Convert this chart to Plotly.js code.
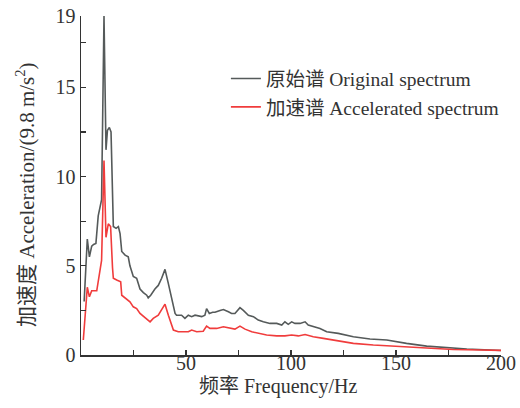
<!DOCTYPE html>
<html><head><meta charset="utf-8">
<script src="https://cdn.plot.ly/plotly-3.0.1.min.js"></script>
<style>body{margin:0;background:#fff}#c{width:520px;height:408px}</style>
</head><body><div id="c"></div>
<script>
const freqOrig = [1.5,3.0,4.0,5.1,6.0,7.1,8.2,9.0,9.8,10.95,11.9,12.6,13.5,14.3,15.1,15.4,16.7,17.8,18.6,19.4,21.0,22.5,23.3,24.9,26.5,28.1,29.7,31.3,32.0,33.2,35.2,36.8,38.4,40.0,41.6,43.2,44.8,45.5,47.9,49.5,51.1,52.7,54.3,57.5,59.0,59.8,61.1,62.7,63.8,66.2,67.8,70.2,71.7,73.3,75.7,77.3,79.7,82.1,84.4,86.8,90.0,93.2,95.6,97.1,98.7,100.3,101.9,104.3,106.7,108.2,110.6,113.8,117.0,120.1,122.5,129.7,137.6,145.6,155.0,164.6,174.0,183.7,194.8,200.0];
const valOrig  = [3.0,6.5,5.5,6.1,6.2,6.25,7.8,8.3,8.7,19.0,11.5,12.6,12.75,12.5,8.7,7.2,7.1,7.2,6.8,5.8,5.6,5.5,5.0,4.4,4.3,3.7,3.5,3.35,3.2,3.35,3.7,3.9,4.3,4.8,4.0,3.07,2.33,2.23,2.23,2.05,2.23,2.15,2.23,2.15,2.23,2.6,2.33,2.4,2.4,2.5,2.55,2.42,2.33,2.33,2.65,2.5,2.23,2.15,1.96,1.86,1.77,1.77,1.68,1.86,1.72,1.86,1.77,1.77,1.86,1.68,1.58,1.49,1.3,1.25,1.21,1.02,0.9,0.84,0.65,0.5,0.41,0.34,0.28,0.25];
const freqAcc  = [1.1,3.0,4.0,5.1,7.5,8.2,9.0,9.8,10.95,11.9,13.0,14.1,15.0,15.4,17.0,18.9,19.4,21.7,23.3,24.9,26.5,28.1,31.3,32.9,34.4,36.8,39.2,40.0,41.6,43.2,44.0,46.3,48.7,51.1,52.7,55.1,58.2,59.8,61.4,64.6,67.8,71.0,73.3,75.7,78.1,81.3,84.4,88.4,93.2,97.1,100.3,103.5,106.7,110.6,115.4,120.1,129.7,139.2,148.8,158.3,167.8,177.3,190.0,200.0];
const valAcc   = [0.84,3.8,3.26,3.6,3.6,4.2,4.75,5.3,10.9,6.6,7.35,7.2,4.9,4.3,4.2,4.1,3.35,3.16,2.98,2.7,2.6,2.33,2.05,1.86,2.05,2.23,2.7,2.85,2.23,1.58,1.4,1.3,1.3,1.3,1.4,1.3,1.33,1.62,1.49,1.49,1.58,1.49,1.45,1.62,1.45,1.3,1.21,1.12,1.07,1.07,1.12,1.07,1.15,1.02,0.93,0.84,0.65,0.56,0.5,0.43,0.37,0.31,0.28,0.26];
const xTickVals = [0,25,50,75,100,125,150,175,200];
const xTickText = ['','','50','','100','','150','','200'];
const yTickVals = [0,2.5,5,7.5,10,12.5,15,17.5,19];
const yTickText = ['0','','5','','10','','15','','19'];
const seriesNames = ['原始谱 Original spectrum','加速谱 Accelerated spectrum'];
const xTitle = '频率 Frequency/Hz';
const yTitle = '加速度 Acceleration/(9.8 m/s<sup>2</sup>)';

const F = 'Liberation Serif, Times New Roman, Noto Sans CJK SC, serif';
const C = '#333';
const traces = [
  {x:freqOrig, y:valOrig, mode:'lines', name:seriesNames[0], line:{color:'#555a5a', width:1.6}},
  {x:freqAcc, y:valAcc, mode:'lines', name:seriesNames[1], line:{color:'#f03c3c', width:1.6}}
];
const layout = {
  width:520, height:408,
  margin:{l:81, r:19, t:16, b:53},
  paper_bgcolor:'#fff', plot_bgcolor:'#fff',
  font:{family:F, size:18, color:C},
  showlegend:true,
  legend:{x:0.345, y:0.872, xanchor:'left', yanchor:'top', bgcolor:'rgba(0,0,0,0)', font:{family:F, size:19.5, color:C}, tracegroupgap:0},
  xaxis:{range:[0,200], tickvals:xTickVals, ticktext:xTickText, ticks:'inside', ticklen:5, tickwidth:1.3, tickcolor:C,
         showline:true, linecolor:C, linewidth:1.5, showgrid:false, zeroline:false, ticklabelstandoff:-11,
         tickfont:{family:F, size:20, color:C}},
  yaxis:{range:[0,19], tickvals:yTickVals, ticktext:yTickText, ticks:'inside', ticklen:5, tickwidth:1.3, tickcolor:C,
         showline:true, linecolor:C, linewidth:1.5, showgrid:false, zeroline:false,
         tickfont:{family:F, size:20, color:C}},
  annotations:[
    {text:xTitle, xref:'paper', yref:'paper', x:0.47, y:-0.094, xanchor:'center', yanchor:'middle', showarrow:false, font:{family:F, size:20, color:C}},
    {text:yTitle, xref:'paper', yref:'paper', x:-0.131, y:0.475, xanchor:'center', yanchor:'middle', textangle:-90, showarrow:false, font:{family:F, size:21, color:C}}
  ]
};
Plotly.newPlot('c', traces, layout, {displayModeBar:false, staticPlot:true});
</script></body></html>
